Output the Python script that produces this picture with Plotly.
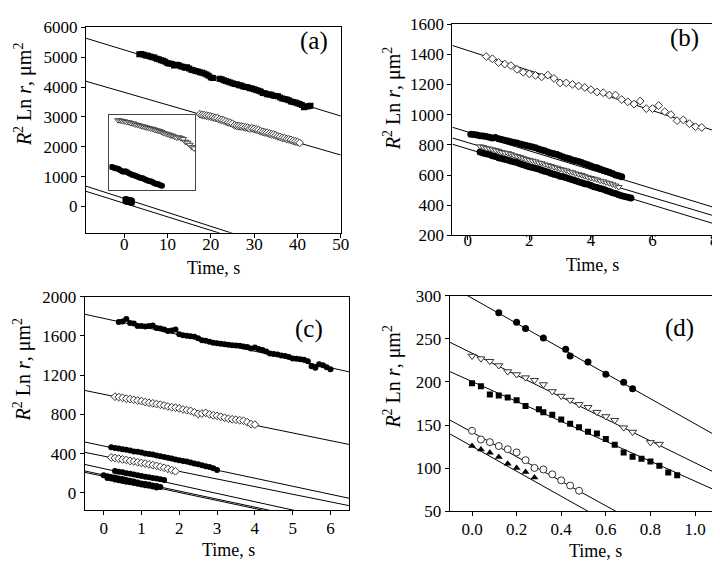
import numpy as np
import plotly.graph_objects as go

FONT = "Liberation Serif"

# ---------------- Panel (a) ----------------
a_sq_start, a_sq_step = 3.5, 0.5
a_sq_y = [5100, 5110, 5080, 5060, 5050, 5020, 5000, 4990, 4950, 4930,
          4900, 4880, 4850, 4800, 4790, 4770, 4720, 4750, 4740, 4700,
          4680, 4650, 4660, 4620, 4580, 4560, 4540, 4520, 4500, 4480,
          4450, 4420, 4380, 4320, 4300, None, None, 4280, 4260, 4230,
          4200, 4180, 4150, 4130, 4100, 4090, 4060, 4050, 4020, 4000,
          3990, 3960, 3950, 3930, 3900, 3880, 3850, 3800, 3790, 3760,
          3750, 3740, 3710, 3700, 3690, 3650, 3620, 3600, 3580, 3560,
          3520, 3500, 3480, 3460, 3430, 3400, 3320, 3350, 3360, 3370]
a_di_start, a_di_step = 17.5, 0.5
a_di_y = [3090, 3070, 3060, 3040, 3030, 3010, 2990, 2970, 2960, 2920,
          2900, 2880, 2850, 2820, 2800, 2770, 2720, 2700, 2690, 2680,
          2670, 2650, 2640, 2610, 2620, 2600, 2580, 2560, 2520, 2500,
          2480, 2470, 2440, 2420, 2410, 2380, 2350, 2330, 2300, 2290,
          2260, 2250, 2230, 2200, 2180, 2160, 2130]
a_blob_t = [0.3, 0.6, 0.9, 1.2, 1.5, 1.8]
a_blob1_y = [250, 240, 230, 220, 210, 200]
a_blob2_y = [170, 160, 150, 140, 130, 120]
# inset of panel (a)
a_in_tri_start, a_in_tri_step = -1.3, 0.5
a_in_tri_y = [2900, 2890, 2870, 2860, 2840, 2830, 2800, 2790, 2760, 2740,
              2720, 2700, 2680, 2660, 2640, 2620, 2610, 2580, 2560, 2540,
              2510, 2470, 2450, 2430, 2400, 2380, 2350, 2320, 2330, 2300,
              2270, 2180, 2150, 2080, 2000, 1960]
a_in_cir_start, a_in_cir_step = -2.8, 0.4
a_in_cir_y = [1340, 1320, 1300, 1290, 1270, 1230, 1200, 1180, 1200, 1170,
              1130, 1100, 1070, 1060, 1040, 1010, 990, 970, 960, 930,
              900, 880, 860, 850, 820, 790, 770, 760, 730, 710]
a_fit_intercept = [5245, 3824, 270, 109]
a_fit_slope = [-44.3, -42.0, -46.7, -45.4]

# ---------------- Panel (b) ----------------
b_di_start, b_di_step = 0.6, 0.2
b_di_y = [1385, 1370, 1345, 1335, 1325, 1300, 1280, 1270, 1260, 1250,
          1262, 1240, 1210, 1210, 1200, 1190, 1180, 1165, 1150, 1145,
          1130, 1130, 1100, 1085, 1070, 1090, 1040, 1040, 1060, 1020,
          1000, 960, 965, 940, 920, 915]
b_c1_start, b_c1_step = 0.1, 0.1
b_c1_y = [870, 868, 865, 860, 858, 855, 850, 845, 848, 840,
          835, 830, 825, 820, 815, 812, 805, 800, 795, 790,
          785, 780, 772, 765, 760, 752, 745, 740, 735, 728,
          720, 712, 708, 700, 695, 690, 682, 675, 668, 660,
          652, 648, 640, 632, 625, 618, 610, 600, 595, 588]
b_tr_start, b_tr_step = 0.4, 0.1
b_tr_y = [790, 785, 778, 775, 770, 765, 760, 752, 748, 745,
          738, 730, 725, 720, 712, 705, 700, 695, 690, 682,
          678, 670, 665, 660, 652, 648, 640, 635, 630, 622,
          618, 610, 605, 600, 592, 585, 580, 575, 570, 562,
          558, 550, 545, 538, 530, 520]
b_c2_start, b_c2_step = 0.4, 0.1
b_c2_y = [752, 745, 740, 735, 728, 722, 715, 710, 705, 700,
          692, 688, 682, 675, 668, 662, 655, 650, 645, 640,
          632, 625, 620, 612, 605, 600, 592, 588, 582, 575,
          568, 562, 555, 548, 542, 538, 530, 522, 518, 510,
          505, 498, 490, 482, 478, 470, 462, 458, 452, 448]
b_fit_intercept = [1425, 885, 815, 773]
b_fit_slope = [-66.4, -62.5, -60.7, -62.0]

# ---------------- Panel (c) ----------------
c_1_start, c_1_step = 0.4, 0.1
c_1_y = [1740, 1745, 1770, 1730, 1725, 1700, 1700, 1695, 1700, 1705,
         1680, 1675, 1665, 1650, 1655, 1665, 1615, 1605, 1600, 1595,
         1590, 1575, 1555, 1550, 1540, 1530, 1525, 1520, 1515, 1510,
         1505, 1500, 1498, 1490, 1485, 1470, 1480, 1465, 1455, 1440,
         1420, 1415, 1410, 1400, 1395, 1385, 1370, 1365, 1360, 1355,
         1340, 1290, 1275, 1310, 1300, 1280, 1260]
c_2_start, c_2_step = 0.3, 0.1
c_2_y = [980, 975, 968, 960, 955, 948, 940, 935, 925, 918,
         912, 905, 898, 890, 880, 872, 868, 860, 850, 842,
         835, 820, 805, 808, 815, 800, 790, 785, 775, 765,
         755, 750, 745, 740, 735, 720, 700, 695]
c_3_start, c_3_step = 0.2, 0.1
c_3_y = [465, 458, 452, 445, 440, 432, 422, 418, 410, 400,
         395, 390, 380, 372, 365, 358, 350, 340, 332, 325,
         318, 310, 300, 290, 282, 270, 262, 250, 232]
c_4_start, c_4_step = 0.2, 0.1
c_4_y = [360, 355, 348, 340, 335, 325, 320, 312, 305, 298,
         290, 282, 275, 265, 255, 245, 232, 220]
c_5_start, c_5_step = 0.3, 0.1
c_5_y = [222, 215, 210, 200, 195, 188, 180, 172, 165, 158, 150, 145, 138, 130]
c_6_start, c_6_step = 0.0, 0.1
c_6_y = [180, 170, 160, 155, 145, 140, 130, 122, 115, 105, 95, 90, 85, 75, 70, 60]
c_7_start, c_7_step = 0.1, 0.1
c_7_y = [150, 145, 135, 128, 120, 112, 108, 100, 92, 85, 78, 72, 65, 55]
c_fit_intercept = [1778, 1004, 477, 374, 247, 182, 168]
c_fit_slope = [-83.9, -78.7, -82.0, -77.7, -84.4, -82.0, -82.0]

# ---------------- Panel (d) ----------------
d_cir_t = [0.12, 0.20, 0.24, 0.32, 0.42, 0.44, 0.52, 0.60, 0.68, 0.72]
d_cir_y = [280, 269, 262, 251, 238, 230, 223, 209, 199.6, 192]
d_tri_t = [0.0, 0.04, 0.08, 0.12, 0.16, 0.20, 0.24, 0.28, 0.32, 0.36, 0.40,
           0.44, 0.48, 0.52, 0.56, 0.60, 0.64, 0.68, 0.72, 0.80, 0.84]
d_tri_y = [230, 227, 224, 219, 212, 208.6, 205, 202, 197, 189, 183.6,
           179, 174, 170.6, 165, 160, 155.7, 147, 142, 130, 128]
d_sq_t = [0.0, 0.04, 0.08, 0.12, 0.16, 0.20, 0.24, 0.30, 0.32, 0.36, 0.40, 0.44,
          0.48, 0.52, 0.56, 0.60, 0.64, 0.68, 0.72, 0.76, 0.80, 0.84, 0.88, 0.92]
d_sq_y = [198.5, 195, 185.5, 184.3, 182, 178.7, 172, 168.3, 165, 162, 156.4, 151.5,
          147.5, 142.3, 140.4, 134, 127.3, 118.3, 113.5, 111, 108, 103, 95, 92]
d_oc_t = [0.0, 0.04, 0.08, 0.12, 0.16, 0.20, 0.24, 0.28, 0.32, 0.36, 0.40, 0.44, 0.48]
d_oc_y = [143.4, 133.3, 130.3, 125.8, 122.1, 118.4, 109.4, 100.4, 98.6, 93, 86, 80, 74]
d_bt_t = [0.0, 0.04, 0.08, 0.12, 0.16, 0.20, 0.24, 0.28]
d_bt_y = [125.8, 121.7, 118, 113.2, 105.3, 100.4, 95.6, 89.3]
d_fit_intercept = [297, 233.3, 200.5, 141.8, 125.5]
d_fit_slope = [-145.5, -127.0, -115.4, -142.0, -144.7]

# ---------------- layout geometry ----------------
W, H = 720, 564
ranges = {
    "a": ([-8.8, 50], [-880, 6000], 10, 1000, None),
    "b": ([-0.5, 8], [200, 1600], 2, 200, None),
    "c": ([-0.5, 6.5], [-180, 2000], 1, 400, None),
    "d": ([-0.1, 1.1], [50, 300], 0.2, 50, ".1f"),
}
# pixel boxes (left, right, top, bottom)
boxes = {
    "a": (79, 337, 10.7, 223.3),
    "b": (450, 715, 7.3, 226),
    "c": (77.7, 345.7, 289.3, 510.7),
    "d": (447.3, 718.3, 288.3, 511.7),
}
x_standoff = {"a": -8, "b": -15, "c": -2, "d": -2}
axis_ids = {"a": ("x", "y"), "b": ("x2", "y2"), "c": ("x3", "y3"), "d": ("x4", "y4")}

fig = go.Figure()


def times(start, step, vals):
    return np.round(start + step * np.arange(len(vals)), 3)


def add_fits(panel, intercepts, slopes):
    xr = ranges[panel][0]
    xa, ya = axis_ids[panel]
    for a, b in zip(intercepts, slopes):
        xs = np.array(xr)
        fig.add_trace(go.Scatter(x=xs, y=a + b * xs, mode="lines",
                                 line=dict(color="black", width=1),
                                 xaxis=xa, yaxis=ya, hoverinfo="skip"))


def add_pts(panel, x, y, style, xa=None, ya=None):
    if xa is None:
        xa, ya = axis_ids[panel]
    fig.add_trace(go.Scatter(x=x, y=y, mode="markers", marker=style,
                             xaxis=xa, yaxis=ya))


BLACK = dict(symbol="circle", size=6, color="black")
BLACK_SQ = dict(symbol="square", size=6, color="black")
DIAM = dict(symbol="diamond", size=6, color="white", line=dict(color="#333", width=1))
TRI = dict(symbol="triangle-down", size=6, color="white", line=dict(color="#444", width=1))

# panel a
add_fits("a", a_fit_intercept, a_fit_slope)
add_pts("a", times(a_sq_start, a_sq_step, a_sq_y), a_sq_y, BLACK_SQ)
add_pts("a", times(a_di_start, a_di_step, a_di_y), a_di_y, DIAM)
add_pts("a", a_blob_t, a_blob1_y, BLACK)
add_pts("a", a_blob_t, a_blob2_y, BLACK)
add_pts("a", times(a_in_tri_start, a_in_tri_step, a_in_tri_y), a_in_tri_y, TRI, "x5", "y5")
add_pts("a", times(a_in_cir_start, a_in_cir_step, a_in_cir_y), a_in_cir_y,
        dict(symbol="circle", size=6, color="black"), "x5", "y5")

# panel b
add_fits("b", b_fit_intercept, b_fit_slope)
add_pts("b", times(b_di_start, b_di_step, b_di_y), b_di_y, DIAM)
add_pts("b", times(b_c1_start, b_c1_step, b_c1_y), b_c1_y, dict(symbol="circle", size=7, color="black"))
add_pts("b", times(b_c2_start, b_c2_step, b_c2_y), b_c2_y, dict(symbol="circle", size=7, color="black"))
add_pts("b", times(b_tr_start, b_tr_step, b_tr_y), b_tr_y, TRI)

# panel c
add_fits("c", c_fit_intercept, c_fit_slope)
add_pts("c", times(c_1_start, c_1_step, c_1_y), c_1_y, BLACK)
add_pts("c", times(c_2_start, c_2_step, c_2_y), c_2_y, DIAM)
add_pts("c", times(c_3_start, c_3_step, c_3_y), c_3_y, BLACK)
add_pts("c", times(c_4_start, c_4_step, c_4_y), c_4_y, DIAM)
add_pts("c", times(c_5_start, c_5_step, c_5_y), c_5_y, BLACK)
add_pts("c", times(c_6_start, c_6_step, c_6_y), c_6_y, BLACK)
add_pts("c", times(c_7_start, c_7_step, c_7_y), c_7_y, BLACK)

# panel d
add_fits("d", d_fit_intercept, d_fit_slope)
add_pts("d", d_cir_t, d_cir_y, dict(symbol="circle", size=7, color="black"))
add_pts("d", d_tri_t, d_tri_y, dict(symbol="triangle-down", size=7, color="white",
                                    line=dict(color="#333", width=1)))
add_pts("d", d_sq_t, d_sq_y, dict(symbol="square", size=6, color="black"))
add_pts("d", d_oc_t, d_oc_y, dict(symbol="circle", size=7, color="white",
                                  line=dict(color="#333", width=1)))
add_pts("d", d_bt_t, d_bt_y, dict(symbol="triangle-up", size=7, color="black"))

tickfont = dict(family=FONT, size=17, color="black")
layout = dict(width=W, height=H, margin=dict(l=0, r=0, t=0, b=0),
              plot_bgcolor="white", paper_bgcolor="white", showlegend=False)

for i, p in enumerate(["a", "b", "c", "d"]):
    xr, yr, dx, dy, fmt = ranges[p]
    l, r, t, b = boxes[p]
    sfx = "" if i == 0 else str(i + 1)
    common = dict(showline=True, linecolor="black", linewidth=1, mirror=True,
                  ticks="outside", ticklen=4, tickcolor="black", showgrid=False,
                  zeroline=False, tickfont=tickfont)
    layout["xaxis" + sfx] = dict(common, domain=[l / W, r / W], range=xr, tick0=0, dtick=dx,
                                 anchor="y" + sfx, tickformat=fmt,
                                 ticklabelstandoff=x_standoff[p])
    layout["yaxis" + sfx] = dict(common, domain=[1 - b / H, 1 - t / H], range=yr, tick0=0, dtick=dy,
                                 anchor="x" + sfx)

# inset axes inside panel (a)
layout["xaxis5"] = dict(domain=[102.7 / W, 189.3 / W], range=[-3.3, 16.4], showline=True,
                        linecolor="#444", linewidth=1, mirror=True, showticklabels=False,
                        ticks="", showgrid=False, zeroline=False, anchor="y5")
layout["yaxis5"] = dict(domain=[1 - 179 / H, 1 - 101.7 / H], range=[571, 3065], showline=True,
                        linecolor="#444", linewidth=1, mirror=True, showticklabels=False,
                        ticks="", showgrid=False, zeroline=False, anchor="x5")

ytitle = "<i>R</i><sup>2</sup> Ln <i>r</i>, \u03bcm<sup>2</sup>"
ann = []


def note(text, px, py, size, angle=0):
    ann.append(dict(text=text, x=px / W, y=1 - py / H, xref="paper", yref="paper",
                    xanchor="center", yanchor="middle", textangle=angle,
                    showarrow=False, font=dict(family=FONT, size=size, color="black")))


for lab, (px, py) in zip(["(a)", "(b)", "(c)", "(d)"], [(310, 25), (685, 22), (305, 323), (680, 322)]):
    note(lab, px, py, 25)
for (px, py) in [(207.7, 260), (592, 257), (223, 552), (595, 553)]:
    note("Time, s", px, py, 18)
for (px, py) in [(15, 80), (389, 84), (15, 365), (389, 372)]:
    note(ytitle, px, py, 20, -90)
layout["annotations"] = ann

fig.update_layout(**layout)
fig.write_html("out.html")
